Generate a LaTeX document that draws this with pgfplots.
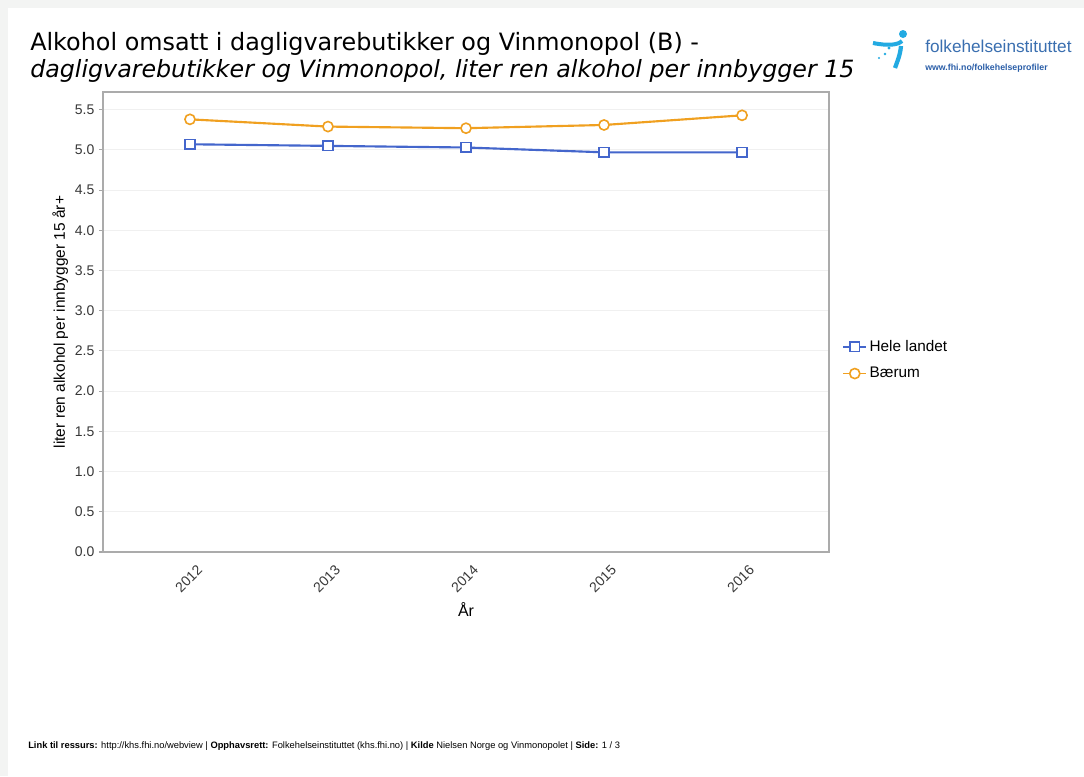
\documentclass[border=0pt]{standalone}
\usepackage{pgfplots}
\pgfplotsset{compat=1.18}
\usepackage{fontspec}
\setmainfont{Liberation Sans}
\newfontfamily\titlefont{DejaVu Sans}
\definecolor{bgray}{HTML}{F3F4F3}
\definecolor{lblue}{HTML}{4466CC}
\definecolor{lorange}{HTML}{F0A020}
\definecolor{fhicyan}{HTML}{22AAE2}
\definecolor{fhiblue}{HTML}{3A6FB0}
\definecolor{fhidark}{HTML}{2A5EA8}
\definecolor{txt}{HTML}{383838}

\pgfplotstableread{
year hele baerum
2012 5.07 5.38
2013 5.05 5.29
2014 5.03 5.27
2015 4.97 5.31
2016 4.97 5.43
}\alkdata

\begin{document}
\begin{tikzpicture}[x=0.75pt,y=-0.75pt]
\path[use as bounding box] (0,0) rectangle (1084,776);
\fill[bgray] (0,0) rectangle (1084,776);
\fill[white] (8,8) rectangle (1084,776);

% title
\node[anchor=base west, inner sep=0, font=\titlefont\fontsize{17.9pt}{20pt}\selectfont, text=black] at (30,50) {Alkohol omsatt i dagligvarebutikker og Vinmonopol (B) -};
\node[anchor=base west, inner sep=0, font=\titlefont\itshape\fontsize{17.8pt}{20pt}\selectfont, text=black] at (30,77) {dagligvarebutikker og Vinmonopol, liter ren alkohol per innbygger 15};

% logo
\fill[fhicyan] (903,34) circle (4);
\draw[fhicyan, line width=3pt] (873,43) .. controls (888,46) and (898,45) .. (902,41);
\draw[fhicyan, line width=3.2pt] (901,46) .. controls (900,56) and (897,62) .. (895,68);
\fill[fhicyan] (889,48) circle (1.6);
\fill[fhicyan] (885,54) circle (1.4);
\fill[fhicyan] (879,58) circle (1.2);
\node[anchor=base west, inner sep=0, font=\fontsize{12.9pt}{14pt}\selectfont, text=fhiblue] at (925,52) {folkehelseinstituttet};
\node[anchor=base west, inner sep=0, font=\bfseries\fontsize{6.6pt}{7pt}\selectfont, text=fhidark] at (925,70) {www.fhi.no/folkehelseprofiler};

% footer
\node[anchor=base west, inner sep=0, font=\fontsize{7pt}{8pt}\selectfont, text=black] at (28,748) {\textbf{Link til ressurs:} http://khs.fhi.no/webview | \textbf{Opphavsrett:} Folkehelseinstituttet (khs.fhi.no) | \textbf{Kilde} Nielsen Norge og Vinmonopolet | \textbf{Side:} 1 / 3};

\begin{axis}[
  at={(77.25pt,-414pt)}, anchor=south west,
  scale only axis, width=544.5pt, height=345pt,
  xmin=2011.37, xmax=2016.63, ymin=0, ymax=5.72,
  xtick={2012,2013,2014,2015,2016},
  ytick={0,0.5,1,1.5,2,2.5,3,3.5,4,4.5,5,5.5},
  ytick pos=left,
  tick align=outside, major tick length=3pt,
  xtick style={draw=none}, ytick style={draw=black!35, line width=0.8pt},
  axis line style={draw=black!33, line width=1pt},
  ymajorgrids, major grid style={draw=black!6, line width=0.8pt},
  x tick label style={/pgf/number format/1000 sep={}, yshift=-17pt, xshift=-1pt, rotate=45, anchor=center},
  y tick label style={/pgf/number format/.cd, fixed, fixed zerofill, precision=1},
  /pgf/number format/assume math mode=true,
  tick label style={font=\fontsize{10.5pt}{12pt}\selectfont, text=txt},
  xlabel={År}, ylabel={liter ren alkohol per innbygger 15 år+},
  every axis x label/.style={at={(axis description cs:0.5,0)}, anchor=center, yshift=-43.5pt, font=\fontsize{12pt}{14pt}\selectfont},
  every axis y label/.style={at={(axis description cs:0,0.5)}, xshift=-32pt, rotate=90, anchor=center, font=\fontsize{11.6pt}{13pt}\selectfont},
  legend style={at={(axis description cs:1,0.4174)}, anchor=west, xshift=10pt, draw=none, fill=none, font=\fontsize{11.5pt}{13pt}\selectfont, row sep=6.5pt, inner xsep=0pt},
  legend cell align=left,
  legend image post style={line width=1.2pt},
]
\addplot[lblue, line width=1.6pt, mark=square*, mark size=3.6pt, mark options={fill=white, line width=1.2pt}] table[x=year, y=hele] {\alkdata};
\addlegendentry{Hele landet}
\addplot[lorange, line width=1.6pt, mark=*, mark size=3.8pt, mark options={fill=white, line width=1.2pt}] table[x=year, y=baerum] {\alkdata};
\addlegendentry{Bærum}
\end{axis}
\end{tikzpicture}
\end{document}
